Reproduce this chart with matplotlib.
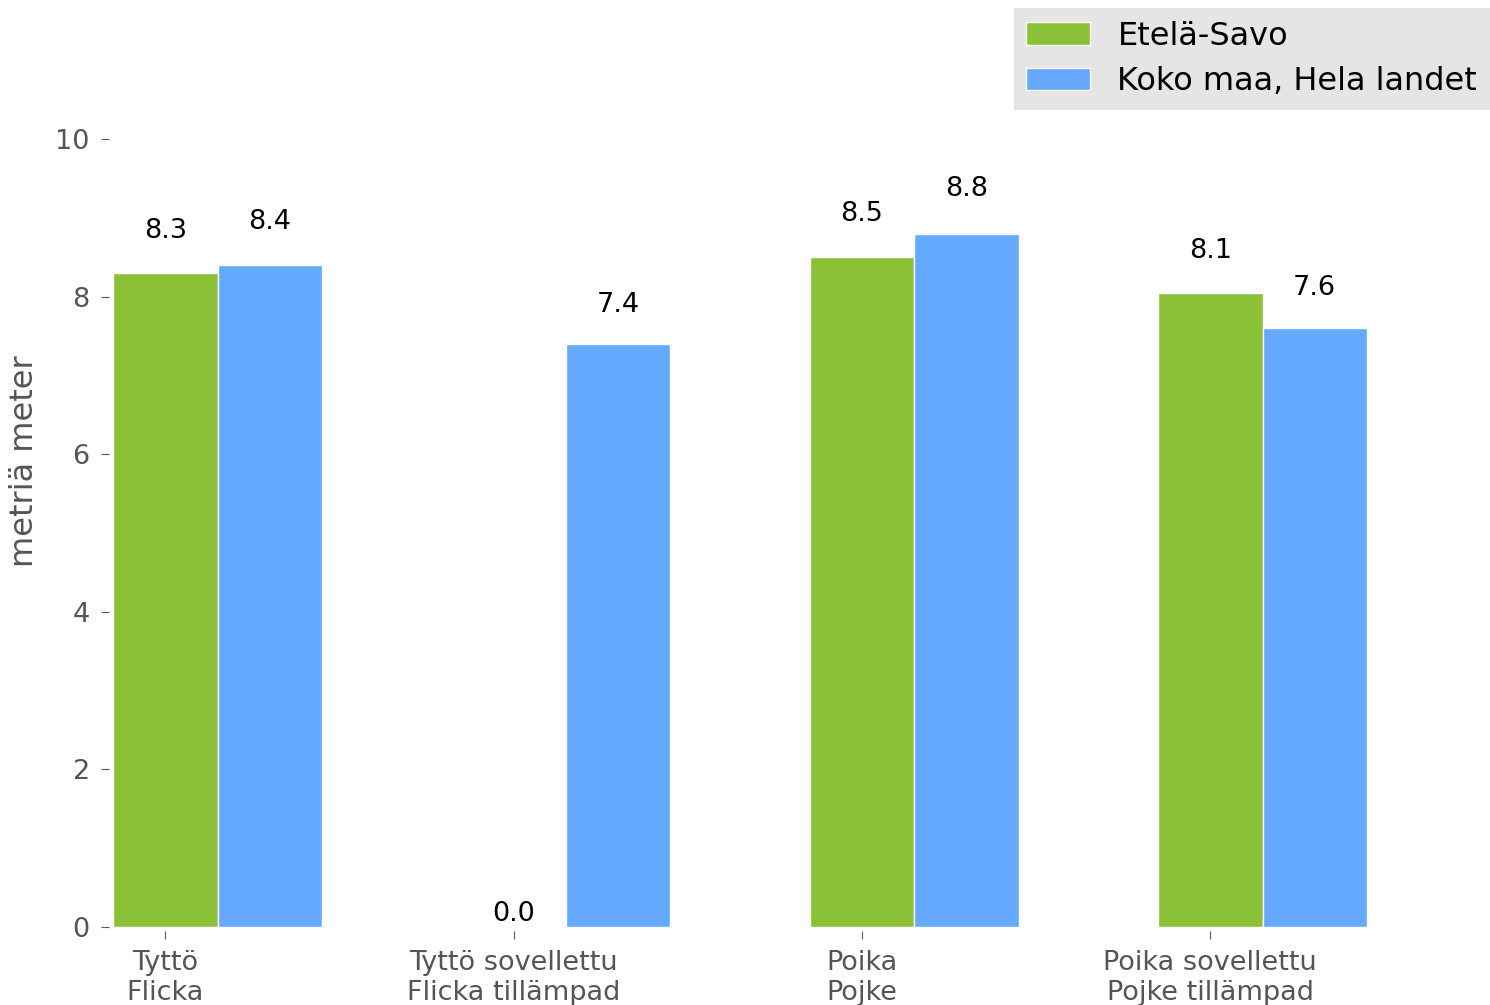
import matplotlib
matplotlib.use("Agg")
import matplotlib.pyplot as plt
import numpy as np

categories = ["Tyttö\nFlicka", "Tyttö sovellettu\nFlicka tillämpad",
              "Poika\nPojke", "Poika sovellettu\nPojke tillämpad"]
series_names = ["Etelä-Savo", "Koko maa, Hela landet"]
etela_savo = [8.3, 0.0, 8.5, 8.05]
koko_maa = [8.4, 7.4, 8.8, 7.6]
colors = ["#8bc137", "#66aaff"]

W, H = 1490, 1005
fig = plt.figure(figsize=(W / 100, H / 100), dpi=100)
left, right, bottom, top = 113, 1367, 927, 139
ax = fig.add_axes([left / W, 1 - bottom / H, (right - left) / W, (bottom - top) / H])

x = np.arange(len(categories))
width = 0.3
gray = "#555555"

for i, (vals, name, c) in enumerate(zip([etela_savo, koko_maa], series_names, colors)):
    bars = ax.bar(x + i * width, vals, width, color=c, edgecolor="white",
                  linewidth=1, label=name)
    for b, v in zip(bars, vals):
        ax.text(b.get_x() + b.get_width() / 2, v * 1.045, f"{v:.1f}",
                ha="center", va="bottom", fontsize=19.5, color="black")

ax.set_xlim(-0.15, 3.45)
ax.set_ylim(0, 10)
ax.set_xticks(x)
ax.set_xticklabels(categories, linespacing=1.1)
ax.set_yticks([0, 2, 4, 6, 8, 10])
ax.tick_params(axis="y", labelsize=19.5, labelcolor=gray, color=gray,
               length=5.8, width=0.8, pad=8)
ax.tick_params(axis="x", labelsize=19.5, labelcolor=gray, color=gray,
               length=5.8, width=0.8, pad=8)
for s in ax.spines.values():
    s.set_position(("outward", 2.9))
    s.set_visible(False)
ax.set_ylabel("metriä meter", fontsize=23, color=gray)
ax.yaxis.set_label_coords((40 - left) / (right - left), (bottom - 461) / (bottom - top))

fig.legend(loc="upper right", bbox_to_anchor=(1, 1 - 8 / H), borderaxespad=0,
           fontsize=23, facecolor="#e5e5e5", edgecolor="none", framealpha=1,
           fancybox=False, handlelength=2.0, handleheight=0.7,
           handletextpad=0.85, borderpad=0.4, labelspacing=0.45)

fig.savefig("out.png", dpi=100)
